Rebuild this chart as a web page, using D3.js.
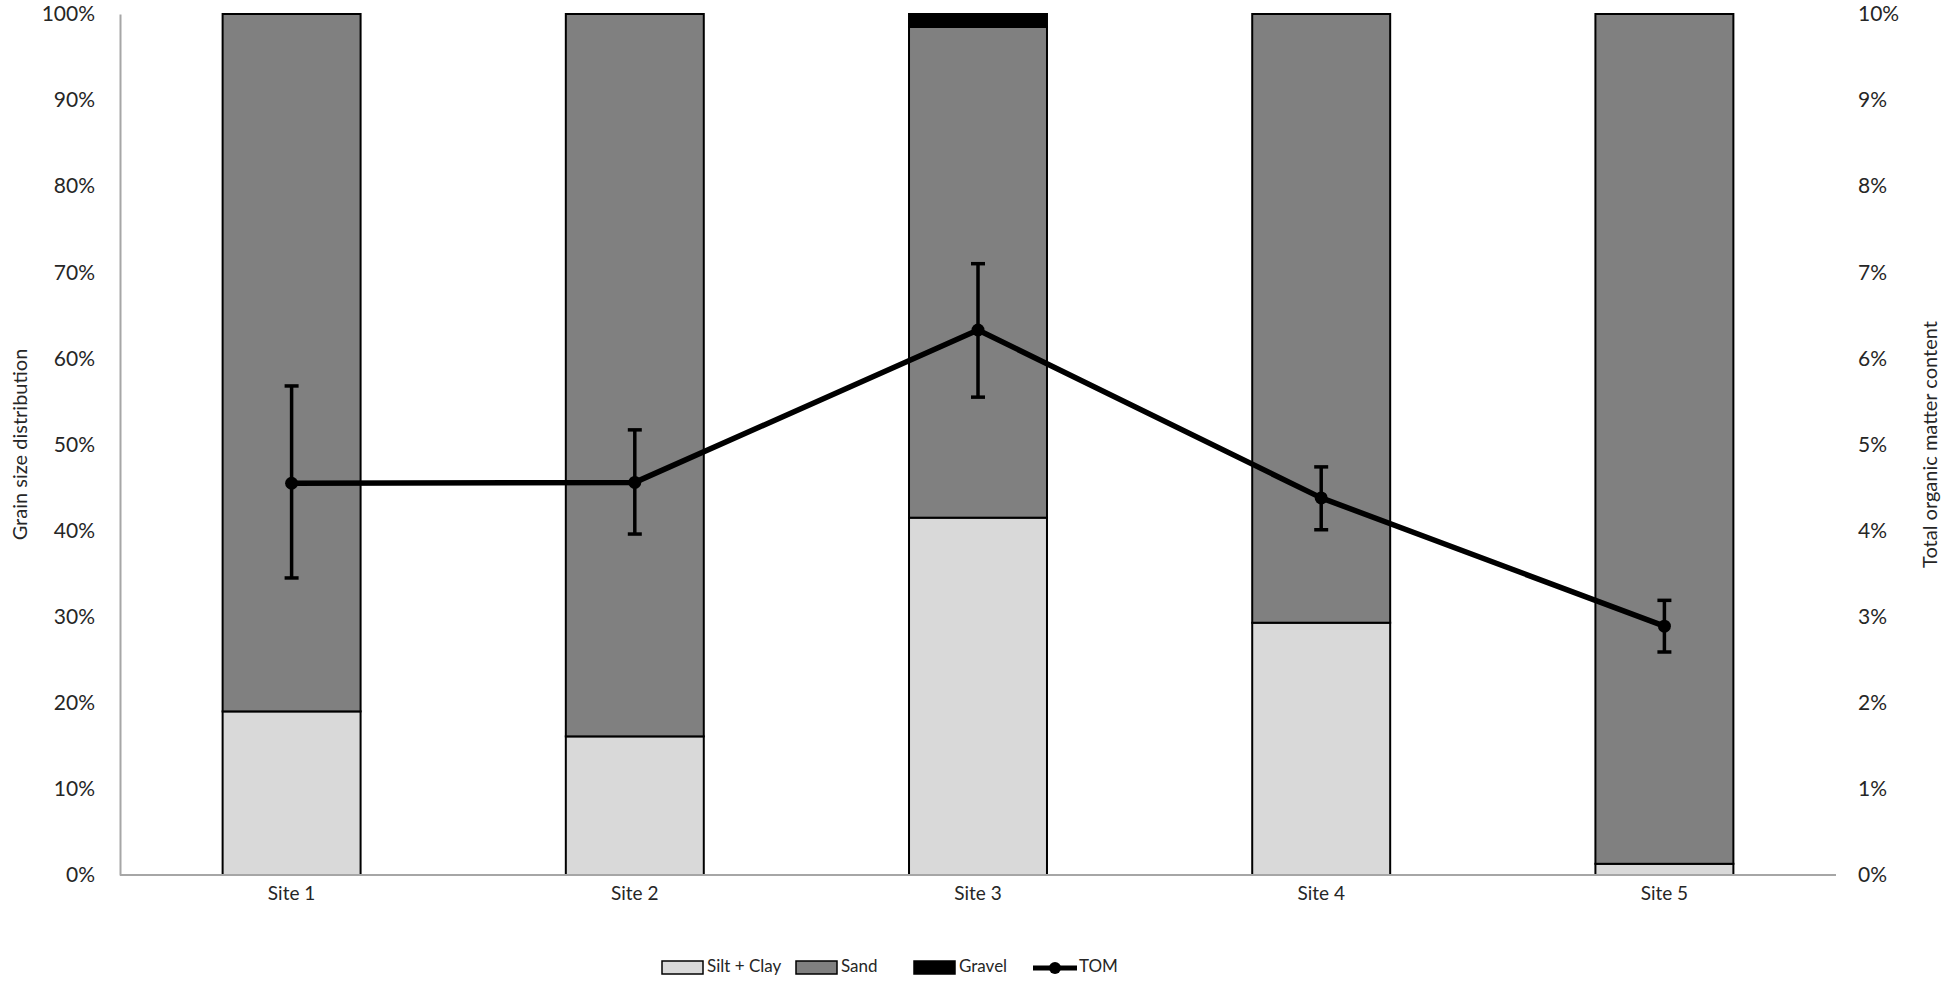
<!DOCTYPE html>
<html><head><meta charset="utf-8">
<script src="https://cdn.jsdelivr.net/npm/d3@7"></script>
<style>
html,body{margin:0;padding:0;background:#fff;}
text{font-family:Lato,"Open Sans",sans-serif;fill:#262626;}
</style></head>
<body>
<svg id="chart" width="1950" height="982"></svg>
<script>
const sites = ["Site 1","Site 2","Site 3","Site 4","Site 5"];
const siltClay = [0.190, 0.161, 0.415, 0.293, 0.013];
const sand     = [0.810, 0.839, 0.570, 0.707, 0.987];
const gravel   = [0.000, 0.000, 0.015, 0.000, 0.000];
const tom      = [0.0455, 0.0456, 0.0633, 0.0438, 0.0289];
const tomHigh  = [0.0568, 0.0517, 0.0710, 0.0474, 0.0319];
const tomLow   = [0.0345, 0.0396, 0.0555, 0.0401, 0.0259];
const leftTicks  = [0,0.1,0.2,0.3,0.4,0.5,0.6,0.7,0.8,0.9,1.0];
const rightTicks = [0,0.01,0.02,0.03,0.04,0.05,0.06,0.07,0.08,0.09,0.10];
const seriesNames = ["Silt + Clay","Sand","Gravel"];
const seriesColors = ["#d9d9d9","#808080","#000000"];

const svg = d3.select("#chart");
const L = 120, R = 1836, T = 14, B = 875;

const x = d3.scaleBand().domain(sites).range([L,R]).paddingInner(0.598).paddingOuter(0.299);
const yL = d3.scaleLinear().domain([0,1]).range([B,T]);
const yR = d3.scaleLinear().domain([0,0.1]).range([B,T]);

// stacked data
const rows = sites.map((s,i)=>({site:s, "Silt + Clay":siltClay[i], "Sand":sand[i], "Gravel":gravel[i]}));
const stack = d3.stack().keys(seriesNames)(rows);

const gBars = svg.append("g");
stack.forEach((layer,li)=>{
  gBars.selectAll(null).data(layer.filter(d=>d[1]-d[0]>0)).enter().append("rect")
    .attr("x", d=>x(d.data.site))
    .attr("width", x.bandwidth())
    .attr("y", d=>yL(d[1]))
    .attr("height", d=>yL(d[0])-yL(d[1]))
    .attr("fill", seriesColors[li])
    .attr("stroke","#000").attr("stroke-width",2);
});

// axes
const axL = d3.axisLeft(yL).tickValues(leftTicks).tickFormat(d3.format(".0%")).tickSize(0).tickPadding(25);
const gL = svg.append("g").attr("transform",`translate(${L},0)`).call(axL);
gL.select(".domain").attr("stroke","#a6a6a6").attr("stroke-width",2);
gL.selectAll("text").style("font-size","21px").attr("fill","#262626");

const axR = d3.axisRight(yR).tickValues(rightTicks).tickFormat(d3.format(".0%")).tickSize(0).tickPadding(22);
const gR = svg.append("g").attr("transform",`translate(${R},0)`).call(axR);
gR.select(".domain").remove();
gR.selectAll("text").style("font-size","21px").attr("fill","#262626");

const axB = d3.axisBottom(x).tickSize(0).tickPadding(12);
const gB = svg.append("g").attr("transform",`translate(0,${B})`).call(axB);
gB.select(".domain").attr("stroke","#a6a6a6").attr("stroke-width",2).attr("d",`M${L},0H${R}`);
gB.selectAll("text").style("font-size","19px").attr("fill","#262626");

// axis titles
svg.append("text").attr("transform",`translate(22,${(T+B)/2}) rotate(-90)`)
  .attr("text-anchor","middle").attr("dominant-baseline","middle")
  .style("font-size","20px").text("Grain size distribution");
svg.append("text").attr("transform",`translate(1932,${(T+B)/2}) rotate(-90)`)
  .attr("text-anchor","middle").attr("dominant-baseline","middle")
  .style("font-size","20px").text("Total organic matter  content");

// TOM line
const cx = s => x(s) + x.bandwidth()/2;
const line = d3.line().x((d,i)=>cx(sites[i])).y(d=>yR(d));
svg.append("path").datum(tom).attr("d",line).attr("fill","none")
  .attr("stroke","#000").attr("stroke-width",5.5).attr("stroke-linejoin","round");

// error bars
const gE = svg.append("g").attr("stroke","#000").attr("stroke-width",3.5);
sites.forEach((s,i)=>{
  const c = cx(s);
  gE.append("line").attr("x1",c).attr("x2",c).attr("y1",yR(tomHigh[i])).attr("y2",yR(tomLow[i]));
  gE.append("line").attr("x1",c-7).attr("x2",c+7).attr("y1",yR(tomHigh[i])).attr("y2",yR(tomHigh[i]));
  gE.append("line").attr("x1",c-7).attr("x2",c+7).attr("y1",yR(tomLow[i])).attr("y2",yR(tomLow[i]));
});
svg.append("g").selectAll("circle").data(tom).enter().append("circle")
  .attr("cx",(d,i)=>cx(sites[i])).attr("cy",d=>yR(d)).attr("r",6.5).attr("fill","#000");

// legend
const legend = svg.append("g");
const legY = 968;
const swX = [662, 796, 914];
seriesNames.forEach((n,i)=>{
  legend.append("rect").attr("x",swX[i]).attr("y",legY-7).attr("width",41).attr("height",13)
    .attr("fill",seriesColors[i]).attr("stroke","#000").attr("stroke-width",1.5);
  legend.append("text").attr("x",swX[i]+45).attr("y",legY).attr("dominant-baseline","middle")
    .style("font-size","17px").text(n);
});
legend.append("line").attr("x1",1033).attr("x2",1077).attr("y1",legY).attr("y2",legY)
  .attr("stroke","#000").attr("stroke-width",5);
legend.append("circle").attr("cx",1055).attr("cy",legY).attr("r",6).attr("fill","#000");
legend.append("text").attr("x",1079).attr("y",legY).attr("dominant-baseline","middle")
  .style("font-size","17px").text("TOM");
</script>
</body></html>
